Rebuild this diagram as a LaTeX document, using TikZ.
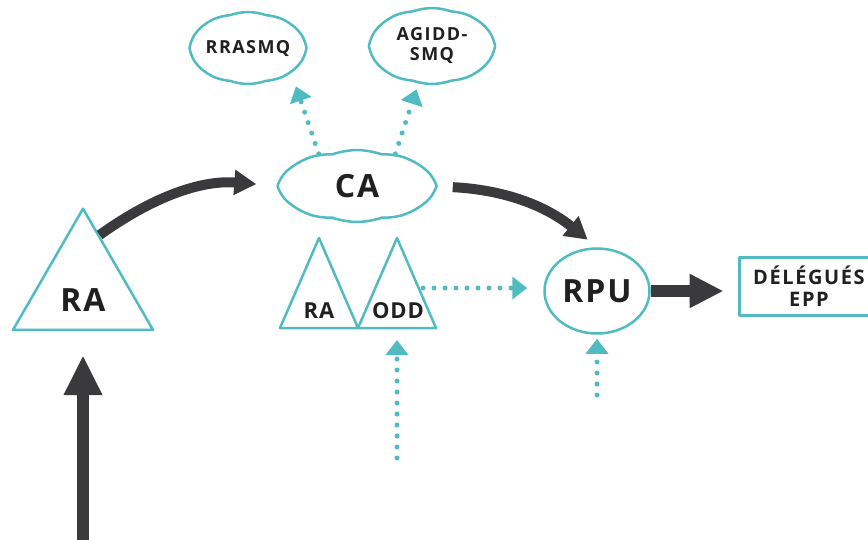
\documentclass[tikz,border=0pt]{standalone}
\usepackage{fontspec}
\setmainfont{Open Sans}
\usetikzlibrary{positioning,shapes.geometric,shapes.symbols,arrows.meta}
\definecolor{tealline}{RGB}{80,188,193}
\definecolor{arrowgray}{RGB}{58,58,60}
\definecolor{textgray}{RGB}{32,32,32}

\begin{document}
\begin{tikzpicture}[x=1pt, y=-1pt, line join=round,
            wolk/.style ={cloud, cloud puffs=10, cloud puff arc=40, cloud ignores aspect,
            draw=tealline, line width=2.5pt, text=textgray, align=center, inner sep=0pt},
            tri/.style ={draw=tealline, line width=2.5pt},
            lbl/.style ={text=textgray, align=center, inner sep=0pt,
            font=\bfseries\addfontfeature{LetterSpace=6}\fontsize{32}{34}\selectfont},
            lblsmall/.style ={lbl, font=\bfseries\addfontfeature{LetterSpace=4}\fontsize{22}{24}\selectfont},
            lbltiny/.style ={lbl, font=\bfseries\addfontfeature{LetterSpace=8}\fontsize{18}{20}\selectfont},
            thick arrow/.style ={draw=arrowgray, line width=10pt, -{Triangle[length=22pt,width=24pt]}},
            dotted arrow/.style ={draw=tealline, line width=5pt, line cap=round,
            dash pattern=on 0pt off 11pt, -{Triangle[length=15pt,width=22pt,line cap=butt]}}]

        \useasboundingbox (0,0) rectangle (868,539);
        \clip (0,0) rectangle (868,539);

        % grand triangle RA + fleche du bas
        \node[regular polygon, regular polygon sides=3, minimum size=161.7pt, inner sep=0pt,
              draw=tealline, line width=2.5pt] (ra) at (83,289.5) {};
        \node[lbl] (ralbl) at (83,300) {RA};
        \coordinate (bas) at (83,545);
        \draw[draw=arrowgray, line width=12pt, -{Triangle[length=40pt,width=36pt]},
              shorten >=24pt] (bas) -- (ra.south);

        % CA et les nuages du haut
        \node[wolk, minimum width=155pt, minimum height=72pt, lbl] (ca) at (357,186) {CA};
        \node[wolk, minimum width=104pt, minimum height=72pt, lbltiny] (rr) at (248,48) {RRASMQ};
        \node[wolk, minimum width=124pt, minimum height=76pt, lbltiny] (ag) at (432,46) {AGIDD-\\SMQ};

        \draw[dotted arrow, shorten >=14pt] (ca.140) -- (rr.-30);
        \draw[dotted arrow, shorten >=6pt] (ca.40) -- (ag.-110);

        % petits triangles RA / ODD
        \coordinate (sra1) at (280,328);
        \coordinate (sra2) at (319,238);
        \coordinate (mid) at (358,328);
        \coordinate (odd2) at (397,238);
        \coordinate (odd3) at (436,328);
        \draw[tri] (sra1) -- (sra2) -- (mid) -- cycle;
        \draw[tri] (mid) -- (odd2) -- (odd3) -- cycle;
        \node[lblsmall] (sralbl) at (319,311) {RA};
        \node[lblsmall] (oddlbl) at (398,311) {ODD};
        \coordinate (oddbord) at (423,288);
        \coordinate (oddbas) at (397,458);

        % RPU et delegues
        \node[ellipse, draw=tealline, line width=2.5pt, minimum width=105pt, minimum height=85pt,
              lbl] (rpu) at (597,291) {RPU};
        \node[rectangle, draw=tealline, line width=3pt, minimum width=140pt, minimum height=58pt,
              lbl, font=\bfseries\addfontfeature{LetterSpace=8}\fontsize{20}{22}\selectfont] (del) at (809,286) {DÉLÉGUÉS\\EPP};
        \coordinate (rpubas) at (597,395);

        % fleches grises
        \draw[thick arrow, shorten >=20pt] (ra.73) to[bend left=20] (ca.west);
        \draw[thick arrow, shorten <=15pt, shorten >=12pt] (ca.east) to[bend left=18] (rpu.north);
        \draw[draw=arrowgray, line width=12pt, -{Triangle[length=34pt,width=32pt]},
              shorten >=14pt] (rpu.east) -- (rpu.east -| del.west);

        % fleches pointillees
        \draw[dotted arrow, shorten >=16pt] (oddbord) -- (oddbord -| rpu.west);
        \draw[dotted arrow, shorten >=12pt] (oddbas) -- (mid -| oddbas);
        \draw[dotted arrow, shorten >=4pt] (rpubas) -- (rpu.south);

\end{tikzpicture}
\end{document}
